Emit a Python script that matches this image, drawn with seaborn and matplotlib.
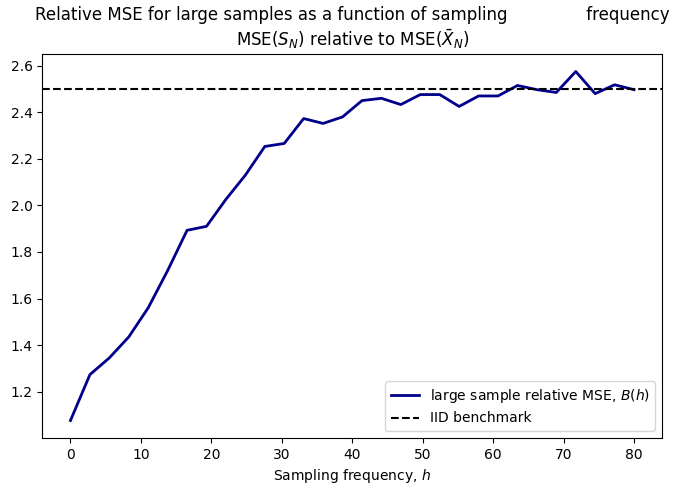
import matplotlib
matplotlib.use("Agg")

import numpy as np
import matplotlib.pyplot as plt
import seaborn as sns

# Relative MSE values
freq = np.linspace(0, 80, 30)
rel_mse = [1.076, 1.273, 1.345, 1.435, 1.56, 1.72, 1.893, 1.91, 2.026, 2.13,
           2.253, 2.266, 2.373, 2.352, 2.38, 2.45, 2.46, 2.433, 2.476, 2.476,
           2.425, 2.47, 2.47, 2.515, 2.497, 2.485, 2.575, 2.48, 2.518, 2.497]
iid_level = 2.5

# plain matplotlib look, no seaborn theme
plt.rcParams["font.family"] = ["DejaVu Sans"]

fig, ax = plt.subplots(figsize=(6.82, 4.96), dpi=100)
sns.lineplot(x=freq, y=rel_mse, ax=ax, color="darkblue", linewidth=2,
             label=r"large sample relative MSE, $B(h)$")
ax.axhline(iid_level, color="black", linestyle="--", label="IID benchmark")

ax.set_xlabel(r"Sampling frequency, $h$")
ax.set_title("Relative MSE for large samples as a function of sampling"
             + " " * 15 + "frequency\n"
             + r"MSE($S_N$) relative to MSE($\bar{X}_N$)")
ax.legend(loc="lower right")
ax.set_xticks([0, 10, 20, 30, 40, 50, 60, 70, 80])
ax.set_yticks([1.2, 1.4, 1.6, 1.8, 2.0, 2.2, 2.4, 2.6])

fig.subplots_adjust(left=0.062, right=0.971, top=0.891, bottom=0.117)
fig.savefig("out.png")
